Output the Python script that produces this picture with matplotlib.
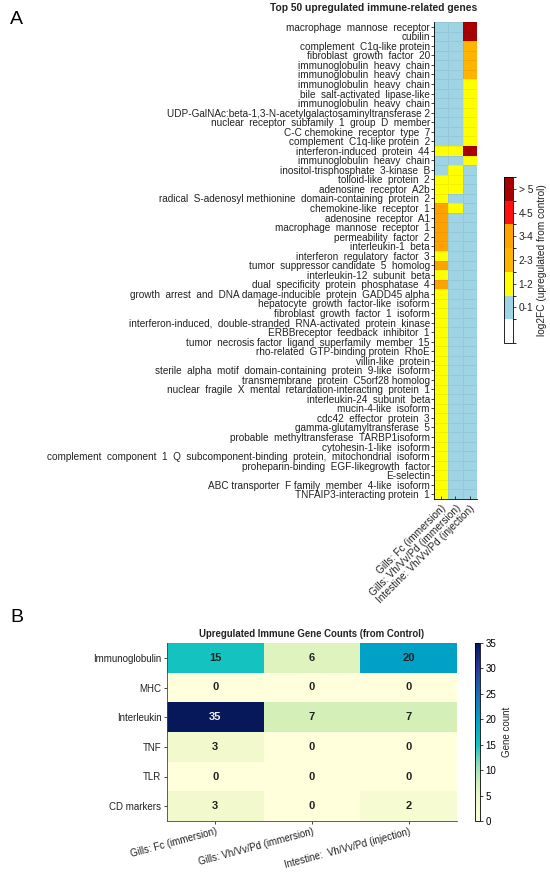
import numpy as np
import matplotlib
matplotlib.use("Agg")
import matplotlib.pyplot as plt
from matplotlib.colors import ListedColormap, BoundaryNorm, LinearSegmentedColormap

plt.rcParams['font.family'] = ['Liberation Sans', 'DejaVu Sans']

# ---------------- panel A data ----------------
genes = [
    "macrophage  mannose  receptor", "cubilin", "complement  C1q-like protein",
    "fibroblast  growth  factor  20", "immunoglobulin  heavy  chain",
    "immunoglobulin  heavy  chain", "immunoglobulin  heavy  chain",
    "bile  salt-activated  lipase-like", "immunoglobulin  heavy  chain",
    "UDP-GalNAc:beta-1,3-N-acetylgalactosaminyltransferase 2",
    "nuclear  receptor  subfamily  1  group  D  member", "C-C chemokine  receptor  type  7",
    "complement  C1q-like protein  2", "interferon-induced  protein  44",
    "immunoglobulin  heavy  chain", "inositol-trisphosphate  3-kinase  B",
    "tolloid-like  protein  2", "adenosine  receptor  A2b",
    "radical  S-adenosyl methionine  domain-containing  protein  2",
    "chemokine-like  receptor  1", "adenosine  receptor  A1",
    "macrophage  mannose  receptor  1", "permeability  factor  2", "interleukin-1  beta",
    "interferon  regulatory  factor  3", "tumor  suppressor candidate  5  homolog",
    "interleukin-12  subunit  beta", "dual  specificity  protein  phosphatase  4",
    "growth  arrest  and  DNA damage-inducible  protein  GADD45 alpha",
    "hepatocyte  growth  factor-like  isoform", "fibroblast  growth  factor  1  isoform",
    "interferon-induced,  double-stranded  RNA-activated  protein  kinase",
    "ERBBreceptor  feedback  inhibitor  1",
    "tumor  necrosis factor  ligand  superfamily  member  15",
    "rho-related  GTP-binding protein  RhoE", "villin-like  protein",
    "sterile  alpha  motif  domain-containing  protein  9-like  isoform",
    "transmembrane  protein  C5orf28 homolog",
    "nuclear  fragile  X  mental  retardation-interacting  protein  1",
    "interleukin-24  subunit  beta", "mucin-4-like  isoform", "cdc42  effector  protein  3",
    "gamma-glutamyltransferase  5", "probable  methyltransferase  TARBP1isoform",
    "cytohesin-1-like  isoform",
    "complement  component  1  Q  subcomponent-binding  protein,  mitochondrial  isoform",
    "proheparin-binding  EGF-likegrowth  factor", "E-selectin",
    "ABC transporter  F family  member  4-like  isoform", "TNFAIP3-interacting protein  1",
]
groups_a = ["Gills: Fc (immersion)", "Gills: Vh/Vv/Pd (immersion)",
            "Intestine: Vh/Vv/Pd (injection)"]
# log2FC bin per gene: 0 = 0-1, 1 = 1-2, 2 = 2-3, 3 = 3-4, 4 = 4-5, 5 = >5
bin_gills_fc = [0]*13 + [1, 0, 0, 1, 1, 1, 3, 3, 3, 3, 3, 1, 3, 1, 3] + [1]*22
bin_gills_vh = [0]*13 + [1, 0, 1, 1, 1, 0, 1] + [0]*30
bin_intestine = [5, 5, 2, 2, 2, 2, 1, 1, 1, 1, 1, 1, 1, 5, 1] + [0]*35
bin_labels = ["0-1", "1-2", "2-3", "3-4", "4-5", "> 5"]
bin_colors = ["white", "#9fd4e4", "#ffff00", "#ffb400", "#ffa200", "#ff1010", "#a80000"]

# ---------------- panel B data ----------------
families = ["Immunoglobulin", "MHC", "Interleukin", "TNF", "TLR", "CD markers"]
groups_b = ["Gills: Fc (immersion)", "Gills: Vh/Vv/Pd (immersion)",
            "Intestine:  Vh/Vv/Pd (injection)"]
count_gills_fc = [15, 0, 35, 3, 0, 3]
count_gills_vh = [6, 0, 7, 0, 0, 0]
count_intestine = [20, 0, 7, 0, 0, 2]

fig = plt.figure(figsize=(5.5, 8.77), dpi=100)

W, H = 550, 877
def box(x0, y0, x1, y1):
    return [x0 / W, 1 - y1 / H, (x1 - x0) / W, (y1 - y0) / H]

# ---- A ----
ax = fig.add_axes(box(434, 22, 477, 499))
mat = np.array([bin_gills_fc, bin_gills_vh, bin_intestine]).T
cmap = ListedColormap(bin_colors)
norm = BoundaryNorm(np.arange(-1.5, 6.5, 1), cmap.N)
mesh = ax.pcolormesh(np.arange(4) - 0.5, np.arange(len(genes) + 1) - 0.5, mat,
                     cmap=cmap, norm=norm, edgecolors=(0, 0, 0, 0.06), linewidth=0.5)
ax.set_xlim(-0.5, 2.5)
ax.set_ylim(len(genes) - 0.5, -0.5)
ax.set_yticks(range(len(genes)))
ax.set_yticklabels(genes, fontsize=7.2, color="#222")
ax.set_xticks(range(3))
ax.set_xticklabels(groups_a, rotation=45, ha="right", rotation_mode="anchor",
                   fontsize=7.3, color="#222")
ax.tick_params(axis="y", length=2, width=0.5, pad=1)
ax.tick_params(axis="x", direction="in", length=2, width=0.5, pad=3)
for s in ["top", "right"]:
    ax.spines[s].set_visible(False)
for s in ["left", "bottom"]:
    ax.spines[s].set_linewidth(0.6)
fig.text(477 / W, 1 - 8 / H, "Top 50 upregulated immune-related genes",
         ha="right", va="center", fontsize=7.4, fontweight="bold", color="#222")

cax = fig.add_axes(box(504, 177, 513, 343))
cb = fig.colorbar(mesh, cax=cax, ticks=range(6))
cb.ax.set_yticklabels(bin_labels, fontsize=7.3, color="#222")
cb.ax.tick_params(length=2, width=0.5, pad=2)
cb.outline.set_linewidth(0.6)
cb.set_label("log2FC (upregulated from control)", fontsize=7.3, color="#222", labelpad=3)

# ---- B ----
count_cmap = LinearSegmentedColormap.from_list("counts", [
    (0.0, "#ffffdc"), (0.14, "#eaf7c4"), (0.22, "#cdeeb4"), (0.32, "#8fdcbc"),
    (0.43, "#12c3c1"), (0.57, "#00a2c6"), (0.72, "#1a6db4"), (0.86, "#26399a"),
    (1.0, "#06175a")])
axb = fig.add_axes(box(167, 643, 457, 821))
cnt = np.array([count_gills_fc, count_gills_vh, count_intestine]).T
im = axb.imshow(cnt, cmap=count_cmap, vmin=0, vmax=35, aspect="auto")
for i in range(cnt.shape[0]):
    for j in range(cnt.shape[1]):
        v = cnt[i, j]
        axb.text(j, i, str(v), ha="center", va="center", fontsize=8, fontweight="bold",
                 color="#eeeeee" if v > 25 else "#222")
axb.set_yticks(range(len(families)))
axb.set_yticklabels(families, fontsize=7, color="#222")
axb.set_xticks(range(3))
axb.set_xticklabels(groups_b, rotation=15, ha="right", rotation_mode="anchor",
                    fontsize=7, color="#222")
axb.tick_params(length=2, width=0.5, pad=2)
for s in ["top", "right"]:
    axb.spines[s].set_visible(False)
for s in ["left", "bottom"]:
    axb.spines[s].set_linewidth(0.6)
    axb.spines[s].set_color("#444")
axb.set_title("Upregulated Immune Gene Counts (from Control)", fontsize=6.9,
              fontweight="bold", color="#222", pad=4)

cbx = fig.add_axes(box(475, 643, 480, 821))
cb2 = fig.colorbar(im, cax=cbx, ticks=range(0, 40, 5))
cb2.ax.tick_params(labelsize=7, length=2, width=0.5, pad=2)
cb2.outline.set_linewidth(0.6)
cb2.set_label("Gene count", fontsize=7, color="#222", labelpad=4)

fig.text(10 / W, 1 - 20 / H, "A", fontsize=14, va="center")
fig.text(10 / W, 1 - 618 / H, "B", fontsize=14, va="center")

fig.savefig("out.png", dpi=100)
